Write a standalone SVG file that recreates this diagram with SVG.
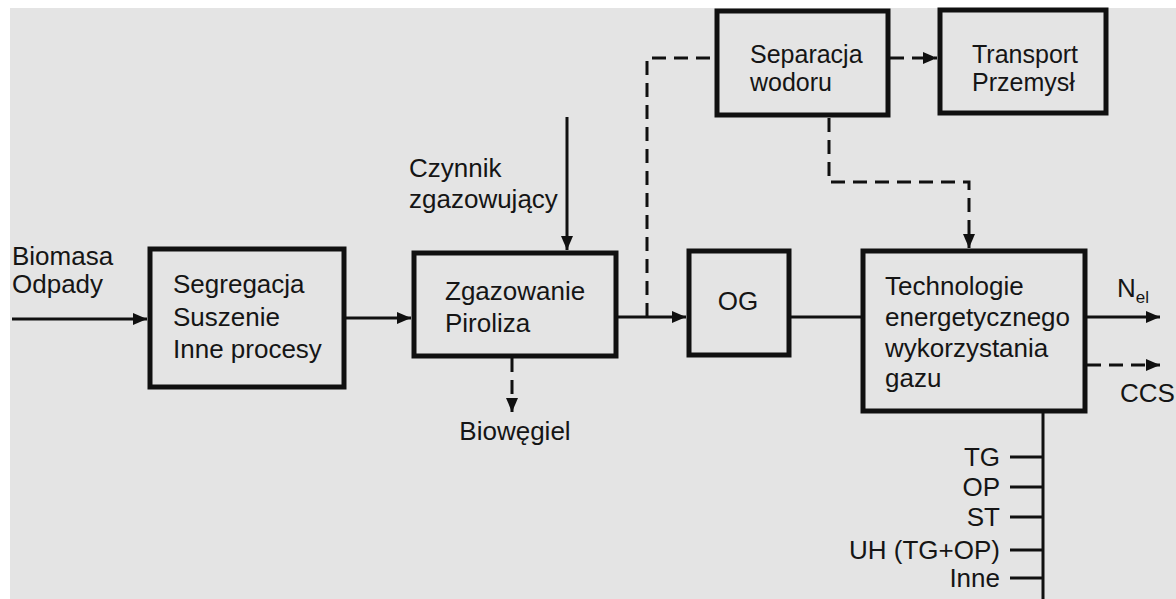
<svg xmlns="http://www.w3.org/2000/svg" width="1176" height="599" viewBox="0 0 1176 599">
<style>
.t{font-family:"Liberation Sans",Arial,sans-serif;font-size:26px;fill:#151515}
.s{font-size:25px}
.box{fill:none;stroke:#101010;stroke-width:5}
.ln{fill:none;stroke:#101010;stroke-width:3}
.ds{fill:none;stroke:#101010;stroke-width:3;stroke-dasharray:14 8}
</style>
<defs>
<marker id="ah" viewBox="0 0 14 12" refX="14" refY="6" markerWidth="14" markerHeight="12" markerUnits="userSpaceOnUse" orient="auto">
<path d="M0,0 L14,6 L0,12 Z" fill="#101010"/>
</marker>
</defs>
<rect x="0" y="0" width="1176" height="599" fill="#ffffff"/>
<rect x="10" y="8" width="1166" height="591" fill="#e4e4e4"/>

<g id="connectors">
<line class="ln" x1="12" y1="319" x2="147" y2="319" marker-end="url(#ah)"/>
<line class="ln" x1="345" y1="318" x2="411" y2="318" marker-end="url(#ah)"/>
<line class="ln" x1="567" y1="117" x2="567" y2="250" marker-end="url(#ah)"/>
<line class="ln" x1="617" y1="317" x2="686" y2="317" marker-end="url(#ah)"/>
<path class="ds" d="M647,317 L647,58 L714,58"/>
<line class="ds" x1="512" y1="358" x2="512" y2="412" marker-end="url(#ah)"/>
<line class="ds" x1="890" y1="58" x2="937" y2="58" marker-end="url(#ah)"/>
<path class="ds" d="M829,118 L829,182 L969,182 L969,248" marker-end="url(#ah)"/>
<line class="ln" x1="790" y1="317" x2="861" y2="317"/>
<line class="ln" x1="1087" y1="317" x2="1160" y2="317" marker-end="url(#ah)"/>
<line class="ds" x1="1087" y1="365" x2="1160" y2="365" marker-end="url(#ah)"/>
<line class="ln" x1="1043" y1="413" x2="1043" y2="599"/>
<line class="ln" x1="1010" y1="457" x2="1043" y2="457"/>
<line class="ln" x1="1010" y1="487" x2="1043" y2="487"/>
<line class="ln" x1="1010" y1="517" x2="1043" y2="517"/>
<line class="ln" x1="1010" y1="550" x2="1043" y2="550"/>
<line class="ln" x1="1010" y1="578" x2="1043" y2="578"/>
</g>

<g id="input-label">
<text class="t" x="12" y="265">Biomasa</text>
<text class="t" x="12" y="293">Odpady</text>
</g>

<g id="segregacja">
<rect class="box" x="150" y="249" width="194" height="138"/>
<text class="t" x="173" y="293">Segregacja</text>
<text class="t" x="173" y="326">Suszenie</text>
<text class="t" x="173" y="358">Inne procesy</text>
</g>

<g id="czynnik-label">
<text class="t" x="409" y="177">Czynnik</text>
<text class="t" x="409" y="208">zgazowujący</text>
</g>

<g id="zgazowanie">
<rect class="box" x="414" y="253" width="202" height="103"/>
<text class="t" x="445" y="300">Zgazowanie</text>
<text class="t" x="445" y="332">Piroliza</text>
</g>

<g id="biowegiel-label">
<text class="t" x="515" y="440" text-anchor="middle">Biowęgiel</text>
</g>

<g id="og">
<rect class="box" x="689" y="251" width="100" height="104"/>
<text class="t" x="738" y="310" text-anchor="middle">OG</text>
</g>

<g id="separacja">
<rect class="box" x="717" y="11" width="171" height="104"/>
<text class="t s" x="750" y="63">Separacja</text>
<text class="t s" x="750" y="91">wodoru</text>
</g>

<g id="transport">
<rect class="box" x="940" y="10" width="166" height="103"/>
<text class="t s" x="972" y="63">Transport</text>
<text class="t s" x="972" y="91">Przemysł</text>
</g>

<g id="technologie">
<rect class="box" x="863" y="251" width="222" height="160"/>
<text class="t" x="885" y="295">Technologie</text>
<text class="t" x="885" y="326">energetycznego</text>
<text class="t" x="885" y="357">wykorzystania</text>
<text class="t" x="885" y="387">gazu</text>
</g>

<g id="outputs">
<text class="t" x="1117" y="297">N<tspan font-size="17" dy="6">el</tspan></text>
<text class="t" x="1120" y="402">CCS</text>
<text class="t" x="1000" y="466" text-anchor="end">TG</text>
<text class="t" x="1000" y="496" text-anchor="end">OP</text>
<text class="t" x="1000" y="526" text-anchor="end">ST</text>
<text class="t" x="1000" y="559" text-anchor="end">UH (TG+OP)</text>
<text class="t" x="1000" y="587" text-anchor="end">Inne</text>
</g>
</svg>
